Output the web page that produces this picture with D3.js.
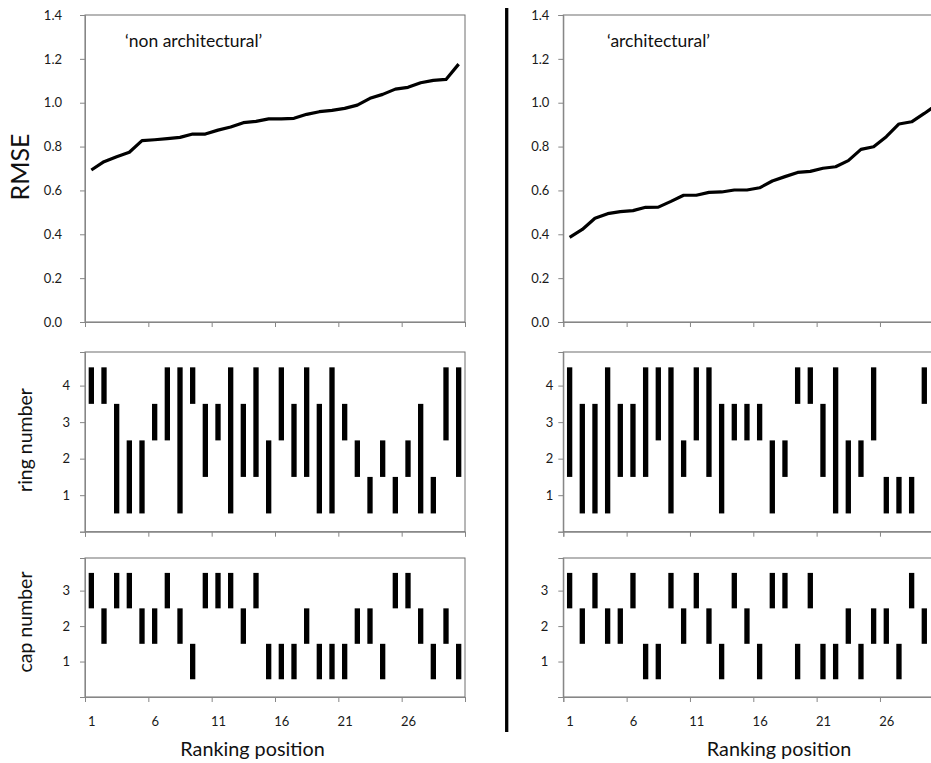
<!DOCTYPE html>
<html>
<head>
<meta charset="utf-8">
<script src="https://cdn.jsdelivr.net/npm/d3@7"></script>
<style>
  html, body { margin: 0; padding: 0; background: #fff; }
  svg { display: block; font-family: Lato, "Open Sans", sans-serif; }
</style>
</head>
<body>
<svg id="chart" width="931" height="763"></svg>
<script>
// ---------------- data ----------------
const positions = d3.range(1, 31);               // ranking positions 1..30
const xTickLabels = [1, 6, 11, 16, 21, 26];
const rmseTicks = [0, 0.2, 0.4, 0.6, 0.8, 1.0, 1.2, 1.4];
const ringTicks = [1, 2, 3, 4];
const capTicks = [1, 2, 3];

const rmseNonArch = [0.693, 0.731, 0.754, 0.774, 0.827, 0.831, 0.836, 0.842, 0.857, 0.857,
                     0.875, 0.889, 0.909, 0.915, 0.926, 0.926, 0.929, 0.947, 0.959, 0.965,
                     0.974, 0.989, 1.020, 1.038, 1.062, 1.070, 1.091, 1.102, 1.106, 1.176];
const rmseArch    = [0.386, 0.422, 0.473, 0.494, 0.503, 0.508, 0.523, 0.524, 0.550, 0.578,
                     0.578, 0.591, 0.593, 0.602, 0.602, 0.612, 0.643, 0.663, 0.682, 0.687,
                     0.701, 0.708, 0.736, 0.787, 0.799, 0.845, 0.903, 0.913, 0.951, 0.992];

const ringMinNonArch = [4, 4, 1, 1, 1, 3, 3, 1, 4, 2, 3, 1, 2, 2, 1, 3, 2, 2, 1, 1, 3, 2, 1, 2, 1, 2, 1, 1, 3, 2];
const ringMaxNonArch = [4, 4, 3, 2, 2, 3, 4, 4, 4, 3, 3, 4, 3, 4, 2, 4, 3, 4, 3, 4, 3, 2, 1, 2, 1, 2, 3, 1, 4, 4];
const ringMinArch    = [2, 1, 1, 1, 2, 2, 2, 3, 1, 2, 3, 2, 1, 3, 3, 3, 1, 2, 4, 4, 2, 1, 1, 2, 3, 1, 1, 1, 4, 2];
const ringMaxArch    = [4, 3, 3, 4, 3, 3, 4, 4, 4, 2, 4, 4, 3, 3, 3, 3, 2, 2, 4, 4, 3, 4, 2, 2, 4, 1, 1, 1, 4, 3];

const capNonArch = [3, 2, 3, 3, 2, 2, 3, 2, 1, 3, 3, 3, 2, 3, 1, 1, 1, 2, 1, 1, 1, 2, 2, 1, 3, 3, 2, 1, 2, 1];
const capArch    = [3, 2, 3, 2, 2, 3, 1, 1, 3, 2, 3, 2, 1, 3, 2, 1, 3, 3, 1, 3, 1, 1, 2, 1, 2, 2, 1, 3, 2, 1];

const panelLabels = ["\u2018non architectural\u2019", "\u2018architectural\u2019"];

// ---------------- layout ----------------
const svg = d3.select("#chart");
const axisColor = "#868686";
const borderColor = "#6f6f6f";
const tickFont = 13;

const columns = [
  { x0: 85,    rmse: rmseNonArch, rmin: ringMinNonArch, rmax: ringMaxNonArch, cap: capNonArch,
    label: panelLabels[0], labelX: 125, padR: 18, padRing: 10, padCap: 10, titleX: 252.5 },
  { x0: 563.3, rmse: rmseArch,    rmin: ringMinArch,    rmax: ringMaxArch,    cap: capArch,
    label: panelLabels[1], labelX: 607, padR: 9,  padRing: 5,  padCap: 10, titleX: 779 }
];
const plotW = 380;
const panels = {
  rmse: { top: 15,  bottom: 322,   domain: [0, 1.4] },
  ring: { top: 352, bottom: 531.7, domain: [0, 4.92] },
  cap:  { top: 558, bottom: 697,   domain: [0, 3.92] }
};

function styleAxis(g) {
  g.select(".domain").attr("stroke", axisColor);
  g.selectAll(".tick line").attr("stroke", axisColor);
  g.selectAll(".tick text").attr("fill", "#1a1a1a").style("font-size", tickFont + "px")
    .style("font-family", "Lato, 'Open Sans', sans-serif");
}

columns.forEach(col => {
  const xBand = d3.scaleBand().domain(positions).range([col.x0, col.x0 + plotW]);
  const xLin = d3.scaleLinear().domain([0.5, 30.5]).range([col.x0, col.x0 + plotW]);
  const bw = xBand.bandwidth();
  const barW = bw * 0.42;
  const cx = p => xBand(p) + bw / 2;
  const boundaries = d3.range(0.5, 31, 5);

  function frame(p) {
    svg.append("rect")
      .attr("x", col.x0).attr("y", p.top)
      .attr("width", plotW).attr("height", p.bottom - p.top)
      .attr("fill", "none").attr("stroke", borderColor).attr("stroke-width", 1);
  }
  function bottomTicks(p) {
    svg.append("g").attr("transform", `translate(0,${p.bottom})`)
      .call(d3.axisBottom(xLin).tickValues(boundaries).tickSize(5).tickFormat(""))
      .call(styleAxis);
  }

  // ---- RMSE panel ----
  const pR = panels.rmse;
  const yR = d3.scaleLinear().domain(pR.domain).range([pR.bottom, pR.top]);
  frame(pR);
  svg.append("g").attr("transform", `translate(${col.x0},0)`)
    .call(d3.axisLeft(yR).tickValues(rmseTicks).tickSize(5).tickPadding(col.padR).tickFormat(d3.format(".1f")))
    .call(styleAxis);
  bottomTicks(pR);
  const lineData = positions.map((p, i) => ({ p, v: col.rmse[i] }));
  svg.append("path").datum(lineData)
    .attr("fill", "none").attr("stroke", "#000").attr("stroke-width", 3.2)
    .attr("stroke-linejoin", "round")
    .attr("d", d3.line().x(d => cx(d.p)).y(d => yR(d.v)));
  svg.append("text").attr("x", col.labelX).attr("y", 47)
    .style("font-size", "17.5px").attr("fill", "#111").text(col.label);

  // ---- ring panel ----
  const pG = panels.ring;
  const yG = d3.scaleLinear().domain(pG.domain).range([pG.bottom, pG.top]);
  frame(pG);
  svg.append("g").attr("transform", `translate(${col.x0},0)`)
    .call(d3.axisLeft(yG).tickValues([0].concat(ringTicks)).tickSize(5).tickPadding(col.padRing)
      .tickFormat(d => d === 0 ? "" : d))
    .call(styleAxis);
  bottomTicks(pG);
  svg.append("g").selectAll("rect").data(positions).join("rect")
    .attr("x", p => cx(p) - barW / 2)
    .attr("width", barW)
    .attr("y", (p, i) => yG(col.rmax[i] + 0.5))
    .attr("height", (p, i) => yG(col.rmin[i] - 0.5) - yG(col.rmax[i] + 0.5))
    .attr("fill", "#000");

  // ---- cap panel ----
  const pC = panels.cap;
  const yC = d3.scaleLinear().domain(pC.domain).range([pC.bottom, pC.top]);
  frame(pC);
  svg.append("g").attr("transform", `translate(${col.x0},0)`)
    .call(d3.axisLeft(yC).tickValues([0].concat(capTicks)).tickSize(5).tickPadding(col.padCap)
      .tickFormat(d => d === 0 ? "" : d))
    .call(styleAxis);
  bottomTicks(pC);
  svg.append("g").selectAll("rect").data(positions).join("rect")
    .attr("x", p => cx(p) - barW / 2)
    .attr("width", barW)
    .attr("y", (p, i) => yC(col.cap[i] + 0.5))
    .attr("height", (p, i) => yC(col.cap[i] - 0.5) - yC(col.cap[i] + 0.5))
    .attr("fill", "#000");

  // x tick labels at category centres
  const xl = svg.append("g").attr("transform", `translate(0,${pC.bottom})`)
    .call(d3.axisBottom(xLin).tickValues(xTickLabels).tickSize(0).tickPadding(20));
  xl.select(".domain").remove();
  xl.call(styleAxis);

  svg.append("text").attr("x", col.titleX).attr("y", 756)
    .attr("text-anchor", "middle").style("font-size", "19.8px").attr("fill", "#111")
    .text("Ranking position");
});

// y-axis titles
svg.append("text").attr("transform", "translate(29,167) rotate(-90)")
  .attr("text-anchor", "middle").style("font-size", "25px").attr("fill", "#111").text("RMSE");
svg.append("text").attr("transform", "translate(32,440) rotate(-90)")
  .attr("text-anchor", "middle").style("font-size", "19.5px").attr("fill", "#111").text("ring number");
svg.append("text").attr("transform", "translate(32,622) rotate(-90)")
  .attr("text-anchor", "middle").style("font-size", "19.5px").attr("fill", "#111").text("cap number");

// divider between the two halves
svg.append("line").attr("x1", 506.7).attr("x2", 506.7).attr("y1", 8).attr("y2", 732)
  .attr("stroke", "#000").attr("stroke-width", 3.3);
</script>
</body>
</html>
